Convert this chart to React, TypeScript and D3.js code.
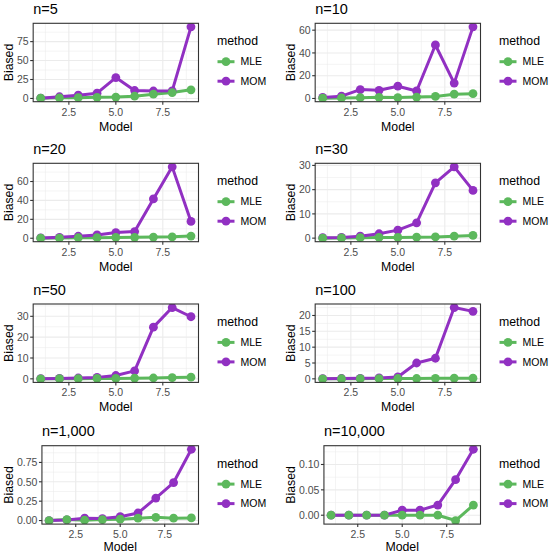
import React from "react";
import * as d3 from "d3";

// ---------- data ----------
const models = [1, 2, 3, 4, 5, 6, 7, 8, 9];
const methods = ["MLE", "MOM"];
const panelTitles = ["n=5", "n=10", "n=20", "n=30", "n=50", "n=100", "n=1,000", "n=10,000"];

const mleN5 = [0.4, 0.8, 1.0, 1.5, 1.8, 3.0, 5.6, 7.8, 11.4];
const momN5 = [0.4, 2.2, 4.3, 7.0, 27.5, 10.5, 9.8, 10.0, 94.5];
const mleN10 = [0.3, 0.5, 0.7, 1.0, 0.8, 1.2, 1.8, 3.8, 4.2];
const momN10 = [0.9, 2.0, 7.8, 7.2, 10.8, 6.6, 47.0, 13.5, 62.9];
const mleN20 = [0.1, 0.2, 0.5, 0.6, 0.8, 1.0, 1.2, 1.5, 2.3];
const momN20 = [0.3, 1.0, 2.1, 3.5, 6.0, 7.0, 41.6, 75.5, 17.8];
const mleN30 = [0.0, 0.1, 0.2, 0.3, 0.3, 0.4, 0.5, 0.8, 1.1];
const momN30 = [0.2, 0.3, 0.8, 1.8, 3.3, 6.3, 22.8, 29.4, 19.7];
const mleN50 = [0.0, 0.05, 0.1, 0.2, 0.2, 0.3, 0.4, 0.6, 0.8];
const momN50 = [0.1, 0.2, 0.4, 0.7, 1.6, 3.8, 24.8, 34.2, 29.8];
const mleN100 = [0.0, 0.02, 0.05, 0.08, 0.1, 0.1, 0.15, 0.2, 0.2];
const momN100 = [0.05, 0.1, 0.15, 0.3, 0.6, 5.0, 6.5, 22.5, 21.3];
const mleN1000 = [0.0, 0.013, 0.004, 0.013, 0.017, 0.03, 0.042, 0.03, 0.034];
const momN1000 = [0.0, 0.008, 0.03, 0.025, 0.05, 0.097, 0.29, 0.49, 0.92];
const mleN10000 = [0, 0, 0, 0, 0, 0, 0, -0.0105, 0.02];
const momN10000 = [0, 0, 0, 0, 0.01, 0.01, 0.02, 0.07, 0.13];

const xTickLabels = ["2.5", "5.0", "7.5"];
const yTicksN5 = ["0", "25", "50", "75"];
const yTicksN10 = ["0", "20", "40", "60"];
const yTicksN20 = ["0", "20", "40", "60"];
const yTicksN30 = ["0", "10", "20", "30"];
const yTicksN50 = ["0", "10", "20", "30"];
const yTicksN100 = ["0", "5", "10", "15", "20"];
const yTicksN1000 = ["0.00", "0.25", "0.50", "0.75"];
const yTicksN10000 = ["0.00", "0.05", "0.10"];

const mleSeries = [mleN5, mleN10, mleN20, mleN30, mleN50, mleN100, mleN1000, mleN10000];
const momSeries = [momN5, momN10, momN20, momN30, momN50, momN100, momN1000, momN10000];
const yTickSets = [yTicksN5, yTicksN10, yTicksN20, yTicksN30, yTicksN50, yTicksN100, yTicksN1000, yTicksN10000];

// ---------- style ----------
const FONT = "Liberation Sans, Arial, Helvetica, sans-serif";
const colorScale = d3.scaleOrdinal<string, string>().domain(methods).range(["#5cb85c", "#9130c2"]);
const COL_X = [0, 282];
const ROW_TOP = [23.3, 163.3, 304, 445.7];
const PANEL_H = 78.4;
const LINE_W = 3;
const PT_R = 4.4;

function textWidth(s: string, size: number) {
  let w = 0;
  for (const c of s) {
    if (c === ".") w += 0.278;
    else if (c === "-") w += 0.333;
    else w += 0.556;
  }
  return w * size;
}

function minorBreaks(major: number[], lo: number, hi: number) {
  const step = major[1] - major[0];
  const ext = [major[0] - step, ...major, major[major.length - 1] + step];
  const out: number[] = [];
  for (let i = 0; i < ext.length - 1; i++) {
    const m = (ext[i] + ext[i + 1]) / 2;
    if (m >= lo && m <= hi) out.push(m);
  }
  return out;
}

function Panel({ idx }: { idx: number }) {
  const col = idx % 2;
  const row = Math.floor(idx / 2);
  const cx = COL_X[col];
  const top = ROW_TOP[row];
  const bottom = top + PANEL_H;
  const yLabels = yTickSets[idx];
  const yTicks = yLabels.map((l) => +l);
  const maxLabW = d3.max(yLabels, (l) => textWidth(l, 10.5)) as number;
  const left = cx + 21.5 + maxLabW;
  const right = cx + 198.5;

  const mle = mleSeries[idx];
  const mom = momSeries[idx];
  const all = [...mle, ...mom];
  const lo = d3.min(all) as number;
  const hi = d3.max(all) as number;
  const pad = (hi - lo) * 0.05;
  const y = d3.scaleLinear().domain([lo - pad, hi + pad]).range([bottom, top]);
  const xr = d3.extent(models) as [number, number];
  const xpad = (xr[1] - xr[0]) * 0.05;
  const x = d3.scaleLinear().domain([xr[0] - xpad, xr[1] + xpad]).range([left, right]);
  const xTicks = xTickLabels.map((l) => +l);
  const xMinor = minorBreaks(xTicks, x.domain()[0], x.domain()[1]);
  const yMinor = minorBreaks(yTicks, y.domain()[0], y.domain()[1]);

  const line = d3
    .line<number>()
    .x((_, i) => x(models[i]))
    .y((d) => y(d));

  const series = [
    { name: "MLE", vals: mle },
    { name: "MOM", vals: mom },
  ];

  return (
    <g>
      <text x={left} y={top - 9.3} fontSize={14.5} fill="#000">
        {panelTitles[idx]}
      </text>
      <rect x={left} y={top} width={right - left} height={PANEL_H} fill="#fff" />
      {xMinor.map((v) => (
        <line key={"xm" + v} x1={x(v)} x2={x(v)} y1={top} y2={bottom} stroke="#ebebeb" strokeWidth={0.55} />
      ))}
      {yMinor.map((v) => (
        <line key={"ym" + v} x1={left} x2={right} y1={y(v)} y2={y(v)} stroke="#ebebeb" strokeWidth={0.55} />
      ))}
      {xTicks.map((v) => (
        <line key={"xM" + v} x1={x(v)} x2={x(v)} y1={top} y2={bottom} stroke="#ebebeb" strokeWidth={1.1} />
      ))}
      {yTicks.map((v) => (
        <line key={"yM" + v} x1={left} x2={right} y1={y(v)} y2={y(v)} stroke="#ebebeb" strokeWidth={1.1} />
      ))}
      <defs>
        <clipPath id={"clip" + idx}>
          <rect x={left} y={top} width={right - left} height={PANEL_H} />
        </clipPath>
      </defs>
      <g clipPath={`url(#clip${idx})`}>
        {series.map((s) => (
          <path
            key={"l" + s.name}
            d={line(s.vals) as string}
            fill="none"
            stroke={colorScale(s.name)}
            strokeWidth={LINE_W}
            strokeLinejoin="round"
          />
        ))}
        {[...series].reverse().map((s) =>
          s.vals.map((v, i) => (
            <circle key={"p" + s.name + i} cx={x(models[i])} cy={y(v)} r={PT_R} fill={colorScale(s.name)} />
          ))
        )}
      </g>
      <rect x={left} y={top} width={right - left} height={PANEL_H} fill="none" stroke="#333333" strokeWidth={1.1} />
      {/* y axis */}
      {yTicks.map((v, i) => (
        <g key={"yt" + v}>
          <line x1={left - 3} x2={left} y1={y(v)} y2={y(v)} stroke="#333333" strokeWidth={1.1} />
          <text x={left - 4.5} y={y(v)} dy="0.36em" textAnchor="end" fontSize={10.5} fill="#4d4d4d">
            {yLabels[i]}
          </text>
        </g>
      ))}
      {/* x axis */}
      {xTicks.map((v, i) => (
        <g key={"xt" + v}>
          <line x1={x(v)} x2={x(v)} y1={bottom} y2={bottom + 3} stroke="#333333" strokeWidth={1.1} />
          <text x={x(v)} y={bottom + 13.8} textAnchor="middle" fontSize={10.5} fill="#4d4d4d">
            {xTickLabels[i]}
          </text>
        </g>
      ))}
      <text x={(left + right) / 2} y={Math.min(bottom + 28.8, 550.5)} textAnchor="middle" fontSize={12.3} fill="#000">
        Model
      </text>
      <text
        transform={`translate(${cx + 12.7},${(top + bottom) / 2}) rotate(-90)`}
        textAnchor="middle"
        fontSize={12.3}
        fill="#000"
      >
        Biased
      </text>
      {/* legend */}
      <text x={cx + 217} y={top + 21.8} fontSize={12.3} fill="#000">
        method
      </text>
      {methods.map((m, i) => {
        const ky = top + 38.4 + i * 19.5;
        return (
          <g key={"lg" + m}>
            <line x1={cx + 217.5} x2={cx + 234.5} y1={ky} y2={ky} stroke={colorScale(m)} strokeWidth={LINE_W} />
            <circle cx={cx + 226} cy={ky} r={PT_R} fill={colorScale(m)} />
            <text x={cx + 240.5} y={ky} dy="0.36em" fontSize={10.5} fill="#000">
              {m}
            </text>
          </g>
        );
      })}
    </g>
  );
}

export default function App() {
  return (
    <svg
      width={550}
      height={554}
      style={{ position: "absolute", left: 0, top: 0, background: "#fff" }}
      fontFamily={FONT}
    >
      <rect width={550} height={554} fill="#fff" />
      {panelTitles.map((_, i) => (
        <Panel key={i} idx={i} />
      ))}
    </svg>
  );
}
